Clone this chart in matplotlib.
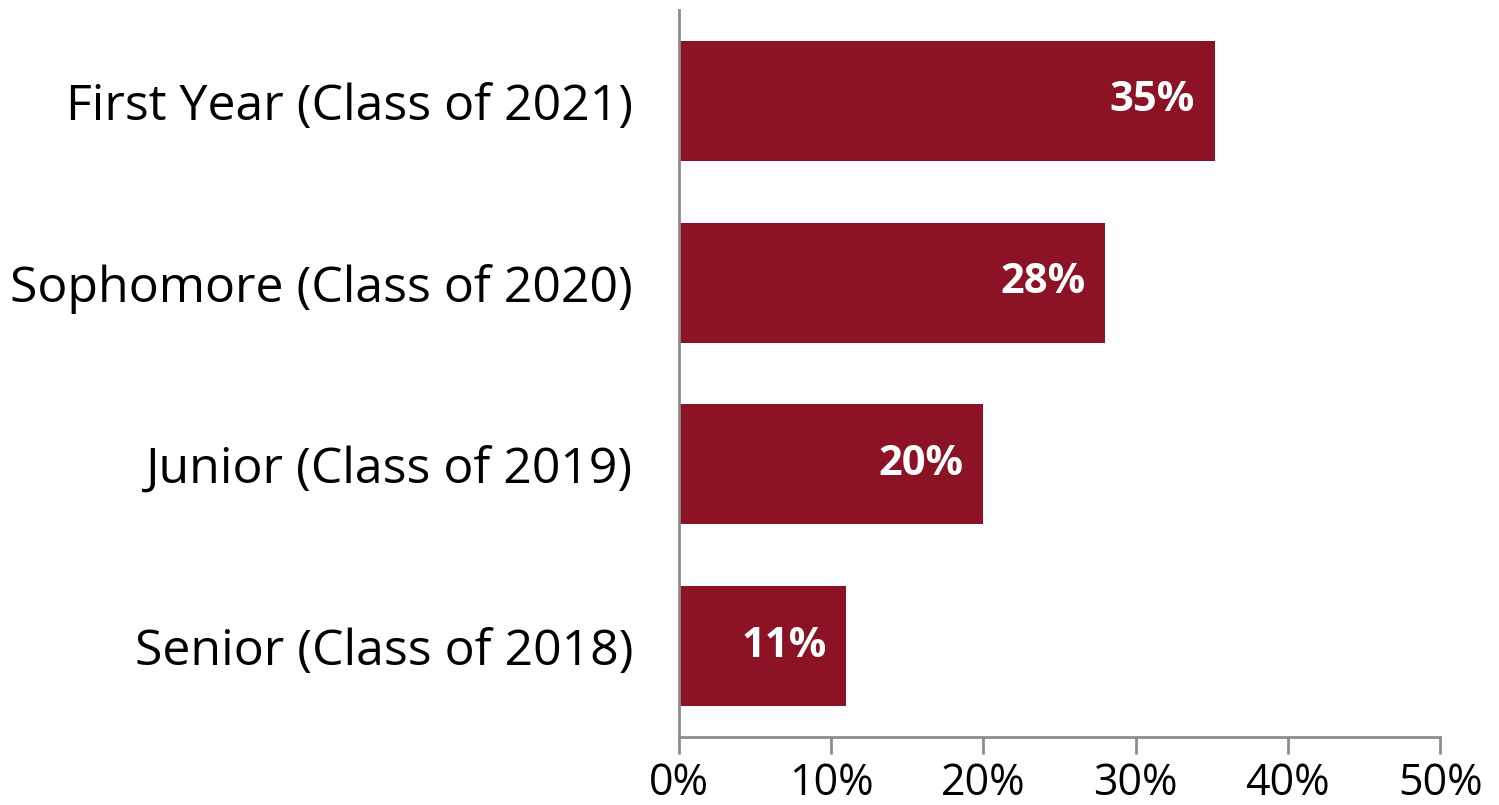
import matplotlib
matplotlib.use("Agg")
import matplotlib.pyplot as plt
from matplotlib.ticker import FuncFormatter

categories = ["Senior (Class of 2018)", "Junior (Class of 2019)",
              "Sophomore (Class of 2020)", "First Year (Class of 2021)"]
values = [11, 20, 28, 35.2]
labels = ["11%", "20%", "28%", "35%"]
xticks = [0, 10, 20, 30, 40, 50]

plt.rcParams['font.family'] = ['Open Sans', 'DejaVu Sans']

fig = plt.figure(figsize=(14.99, 8.05), dpi=100)
ax = fig.add_axes([0.453, 0.0845, 0.5077, 0.9031])

color = "#8B1325"
ypos = list(range(len(categories)))
ax.barh(ypos, values, height=0.66, color=color)
for y, v, t in zip(ypos, values, labels):
    ax.text(v - 1.3, y, t, ha="right", va="center", color="white",
            fontsize=30, fontweight="bold")

ax.set_xlim(0, 50)
ax.set_ylim(-0.5, 3.5)
ax.set_xticks(xticks)
ax.xaxis.set_major_formatter(FuncFormatter(lambda v, p: f"{int(v)}%"))
ax.set_yticks(ypos)
ax.set_yticklabels(categories)

for s in ["top", "right"]:
    ax.spines[s].set_visible(False)
for s in ["left", "bottom"]:
    ax.spines[s].set_color("#8c8c8c")
    ax.spines[s].set_linewidth(2)
ax.tick_params(axis="x", direction="out", length=12, width=2, color="#8c8c8c",
               labelsize=31, pad=6, labelcolor="black")
ax.tick_params(axis="y", length=0, labelsize=36, pad=33, labelcolor="black")

fig.savefig("out.png", dpi=100)
